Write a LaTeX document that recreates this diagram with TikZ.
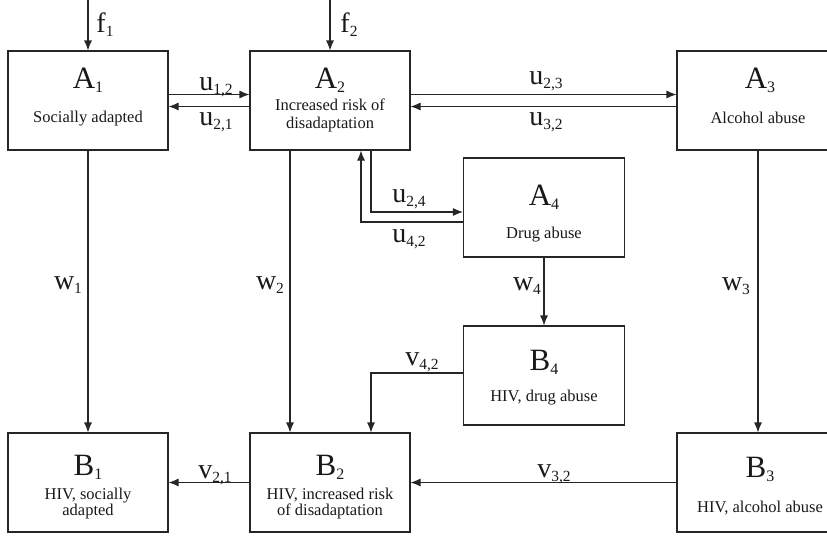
\documentclass[tikz,border=0pt]{standalone}
\usepackage{fontspec}
\setmainfont{Liberation Serif}
\usetikzlibrary{arrows.meta}
\newcommand\Sym[2]{{\fontsize{31}{31}\selectfont #1}\raisebox{-4.5pt}{\fontsize{16}{16}\selectfont #2}}
\newcommand\Lab[2]{{\fontsize{28}{28}\selectfont #1}\raisebox{-4.5pt}{\fontsize{15.5}{15.5}\selectfont #2}}
\begin{document}
\begin{tikzpicture}[x=1pt,y=-1pt,
 box/.style={draw=black!85,line width=1.1pt,minimum width=160pt,minimum height=99pt,inner sep=0pt},
 arr/.style={draw=black!85,line width=1.1pt,-{Latex[length=10pt,width=8pt]}},
 txt/.style={anchor=base,inner sep=0pt,font=\fontsize{16.5}{16.5}\selectfont,text=black!90},
 sym/.style={anchor=base,inner sep=0pt,text=black!90},
]
\path[use as bounding box,clip] (0,0) rectangle (827,539);
\fill[white] (0,0) rectangle (827,539);
% boxes
\node[box] (A1) at (88,100.5) {};
\node[box] (A2) at (330,100.5) {};
\node[box,minimum width=162pt] (A3) at (758,100.5) {};
\node[box,minimum width=161pt] (A4) at (544,207.5) {};
\node[box,minimum width=161pt] (B4) at (544,375.5) {};
\node[box] (B1) at (88,482.5) {};
\node[box] (B2) at (330,482.5) {};
\node[box,minimum width=162pt] (B3) at (758,482.5) {};
% box texts
\node[sym] (A1s) at (88,88) {\Sym{A}{1}};
\node[txt] (A1t) at (88,122) {Socially adapted};
\node[sym] (A2s) at (330,88) {\Sym{A}{2}};
\node[txt] (A2t1) at (330,110) {Increased risk of};
\node[txt] (A2t2) at (330,128) {disadaptation};
\node[sym] (A3s) at (760,88) {\Sym{A}{3}};
\node[txt] (A3t) at (758,123) {Alcohol abuse};
\node[sym] (A4s) at (544,205) {\Sym{A}{4}};
\node[txt] (A4t) at (544,238) {Drug abuse};
\node[sym] (B4s) at (544,370) {\Sym{B}{4}};
\node[txt] (B4t) at (544,401) {HIV, drug abuse};
\node[sym] (B1s) at (88,475) {\Sym{B}{1}};
\node[txt] (B1t1) at (88,499) {HIV, socially};
\node[txt] (B1t2) at (88,515) {adapted};
\node[sym] (B2s) at (330,475) {\Sym{B}{2}};
\node[txt] (B2t1) at (330,499) {HIV, increased risk};
\node[txt] (B2t2) at (330,515) {of disadaptation};
\node[sym] (B3s) at (760,477) {\Sym{B}{3}};
\node[txt] (B3t) at (760,512) {HIV, alcohol abuse};
% inputs
\coordinate (f1s) at (88,0);
\coordinate (f2s) at (330,0);
\draw[arr] (f1s) -- (A1.north);
\draw[arr] (f2s) -- (A2.north);
% horizontal top
\draw[arr] ([yshift=6pt]A1.east) -- ([yshift=6pt]A2.west);
\draw[arr] ([yshift=-6pt]A2.west) -- ([yshift=-6pt]A1.east);
\draw[arr] ([yshift=6pt]A2.east) -- ([yshift=6pt]A3.west);
\draw[arr] ([yshift=-6pt]A3.west) -- ([yshift=-6pt]A2.east);
% A2 <-> A4
\draw[arr] ([xshift=41pt]A2.south) |- ([yshift=-4.5pt]A4.west);
\draw[arr] ([yshift=-14.5pt]A4.west) -| ([xshift=31pt]A2.south);
% vertical
\draw[arr] (A1.south) -- (B1.north);
\draw[arr] ([xshift=-40pt]A2.south) -- ([xshift=-40pt]B2.north);
\draw[arr] (A3.south) -- (B3.north);
\draw[arr] (A4.south) -- (B4.north);
\draw[arr] ([yshift=2.5pt]B4.west) -| ([xshift=41pt]B2.north);
% bottom horizontal
\draw[arr] (B2.west) -- (B1.east);
\draw[arr] (B3.west) -- (B2.east);
% labels
\node[sym] (lf1) at (105,32) {\Lab{f}{1}};
\node[sym] (lf2) at (349,32) {\Lab{f}{2}};
\node[sym] (lu12) at (216,90) {\Lab{u}{1,2}};
\node[sym] (lu21) at (216,125) {\Lab{u}{2,1}};
\node[sym] (lu23) at (546,84) {\Lab{u}{2,3}};
\node[sym] (lu32) at (546,125) {\Lab{u}{3,2}};
\node[sym] (lu24) at (409,202) {\Lab{u}{2,4}};
\node[sym] (lu42) at (409,242) {\Lab{u}{4,2}};
\node[sym] (lw4) at (527,290) {\Lab{w}{4}};
\node[sym] (lv42) at (422,365) {\Lab{v}{4,2}};
\node[sym] (lw1) at (68,289) {\Lab{w}{1}};
\node[sym] (lw2) at (270,289) {\Lab{w}{2}};
\node[sym] (lw3) at (736,290) {\Lab{w}{3}};
\node[sym] (lv21) at (215,478) {\Lab{v}{2,1}};
\node[sym] (lv32) at (554,477) {\Lab{v}{3,2}};
\end{tikzpicture}
\end{document}
